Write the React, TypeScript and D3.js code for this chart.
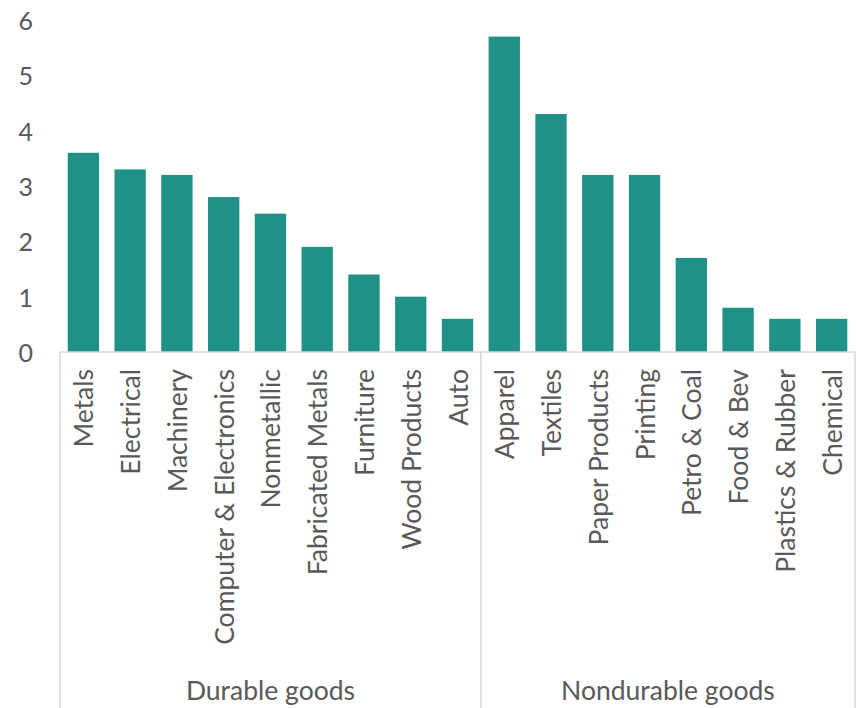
import React from "react";
import * as d3 from "d3";

const categories = [
  "Metals", "Electrical", "Machinery", "Computer & Electronics", "Nonmetallic",
  "Fabricated Metals", "Furniture", "Wood Products", "Auto",
  "Apparel", "Textiles", "Paper Products", "Printing", "Petro & Coal",
  "Food & Bev", "Plastics & Rubber", "Chemical",
];
const values = [3.6, 3.3, 3.2, 2.8, 2.5, 1.9, 1.4, 1.0, 0.6, 5.7, 4.3, 3.2, 3.2, 1.7, 0.8, 0.6, 0.6];
const groups = ["Durable goods", "Nondurable goods"];
const groupSizes = [9, 8];
const yTicks = [0, 1, 2, 3, 4, 5, 6];

const W = 856, H = 708;
const left = 60, right = 855, baseY = 352, topY = 20;
const FONT = "Lato, 'Open Sans', sans-serif";
const TEXT = "#595959";
const LINE = "#d9d9d9";
const BAR = "#1f9187";

export default function App() {
  const x = d3.scaleBand<string>().domain(categories).range([left, right]).paddingInner(0.33).paddingOuter(0.165);
  const y = d3.scaleLinear().domain([0, 6]).range([baseY, topY]);
  const step = x.step();
  let acc = 0;
  const groupBounds = groupSizes.map((n) => {
    const s = acc;
    acc += n;
    return [left + s * step, left + acc * step];
  });
  const boundaries = [left, ...groupBounds.map((g) => g[1])];

  return (
    <svg width={W} height={H} style={{ position: "absolute", left: 0, top: 0, background: "#fff" }}>
      {values.map((v, i) => (
        <rect key={i} x={x(categories[i])} y={y(v)} width={x.bandwidth()} height={y(0) - y(v)} fill={BAR} />
      ))}
      <line x1={left} x2={right} y1={baseY} y2={baseY} stroke={LINE} strokeWidth={1.5} />
      {boundaries.map((bx, i) => (
        <line key={i} x1={bx} x2={bx} y1={baseY} y2={H} stroke={LINE} strokeWidth={1.5} />
      ))}
      {yTicks.map((t) => (
        <text key={t} x={33} y={y(t)} textAnchor="end" dominantBaseline="central" fontFamily={FONT} fontSize={25} fill={TEXT}>
          {t}
        </text>
      ))}
      {categories.map((c) => (
        <text
          key={c}
          transform={`translate(${x(c)! + x.bandwidth() / 2},369) rotate(-90)`}
          textAnchor="end"
          dominantBaseline="central"
          fontFamily={FONT}
          fontSize={26.5}
          fill={TEXT}
        >
          {c}
        </text>
      ))}
      {groups.map((g, i) => (
        <text key={g} x={(groupBounds[i][0] + groupBounds[i][1]) / 2} y={690} textAnchor="middle" dominantBaseline="central" fontFamily={FONT} fontSize={26.5} fill={TEXT}>
          {g}
        </text>
      ))}
    </svg>
  );
}
